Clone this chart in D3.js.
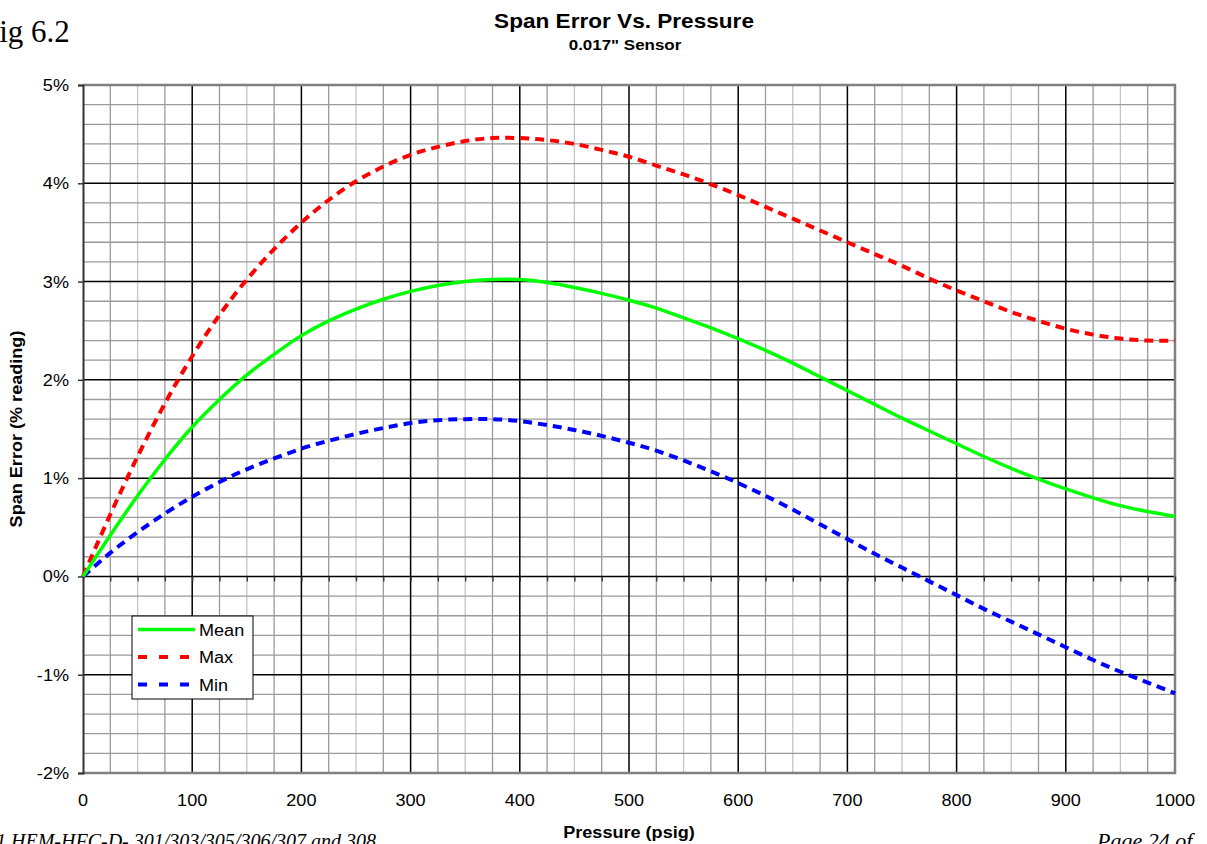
<!DOCTYPE html>
<head>
    <meta charset="utf-8">
    <script src="https://d3js.org/d3.v7.min.js"></script>
    <style>
      body { margin: 0; background: #fff; overflow: hidden; }
      text { font-family: Arial, "Liberation Sans", sans-serif; fill: #000; }
      .serif { font-family: "Times New Roman", "Liberation Serif", serif; }
    </style>
</head>
<body>
    <script>
        // pressure (psig), every 25
        var pressure = d3.range(0, 1001, 25)
        // span error (% reading)
        var meanErr = [0, 0.42, 0.82, 1.19, 1.52, 1.80, 2.05, 2.26, 2.45, 2.60, 2.72, 2.82, 2.90, 2.96, 3.00, 3.02, 3.02, 2.99, 2.94, 2.88, 2.81,
                       2.73, 2.63, 2.53, 2.42, 2.30, 2.17, 2.03, 1.89, 1.75, 1.61, 1.48, 1.35, 1.22, 1.10, 0.99, 0.89, 0.80, 0.72, 0.66, 0.61]
        var maxErr = [0, 0.63, 1.22, 1.76, 2.24, 2.66, 3.02, 3.33, 3.60, 3.83, 4.02, 4.17, 4.29, 4.37, 4.43, 4.46, 4.46, 4.44, 4.40, 4.34, 4.27,
                      4.18, 4.09, 3.99, 3.88, 3.76, 3.64, 3.52, 3.40, 3.28, 3.16, 3.03, 2.91, 2.80, 2.69, 2.60, 2.52, 2.46, 2.42, 2.40, 2.40]
        var minErr = [0, 0.24, 0.45, 0.64, 0.81, 0.96, 1.09, 1.20, 1.30, 1.38, 1.45, 1.51, 1.56, 1.59, 1.60, 1.60, 1.58, 1.54, 1.49, 1.43, 1.36,
                      1.28, 1.18, 1.07, 0.95, 0.82, 0.68, 0.53, 0.38, 0.23, 0.09, -0.05, -0.19, -0.33, -0.46, -0.59, -0.72, -0.85, -0.97, -1.08, -1.19]
        var xTicks = d3.range(0, 1001, 100)
        var yTicks = d3.range(-2, 5.01, 1)

        var series = [
          {name: "Mean", values: meanErr, color: "#00ff00", dash: null},
          {name: "Max", values: maxErr, color: "#ff0000", dash: "9,6"},
          {name: "Min", values: minErr, color: "#0000ff", dash: "9,6"}
        ]

        var svg_w = 1207, svg_h = 844
        var svg = d3.select("body").append("svg")
          .attr("width", svg_w).attr("height", svg_h)

        var x = d3.scaleLinear().domain([0, 1000]).range([83, 1175])
        var y = d3.scaleLinear().domain([-2, 5]).range([773, 85])

        // the source chart was pasted a bit wider than it was drawn, so text looks stretched
        var SX = 1.13
        function label(g, px, py, str, size, anchor, weight, rot) {
          return g.append("text")
            .attr("transform", "translate(" + px + "," + py + ")" + (rot ? " rotate(" + rot + ")" : "") + " scale(" + SX + ",1)")
            .attr("text-anchor", anchor)
            .style("font-size", size + "px")
            .style("font-weight", weight || "normal")
            .text(str)
        }

        // minor grid
        var grid = svg.append("g")
        grid.selectAll(".vminor").data(d3.range(0, 1001, 25).filter(function(d){ return d % 100 != 0 }))
          .enter().append("line")
          .attr("x1", function(d){ return x(d) }).attr("x2", function(d){ return x(d) })
          .attr("y1", y(5)).attr("y2", y(-2))
          .attr("stroke", function(d){ return d % 50 == 0 ? "#c4c4c4" : "#9a9a9a" }).attr("stroke-width", 1.3)
        grid.selectAll(".hminor").data(d3.range(-2, 5.001, 0.2).filter(function(d){ return Math.abs(d - Math.round(d)) > 0.01 }))
          .enter().append("line")
          .attr("x1", x(0)).attr("x2", x(1000))
          .attr("y1", function(d){ return y(d) }).attr("y2", function(d){ return y(d) })
          .attr("stroke", "#9a9a9a").attr("stroke-width", 1.3)
        // major grid
        grid.selectAll(".vmajor").data(xTicks.slice(1, -1))
          .enter().append("line")
          .attr("x1", function(d){ return x(d) }).attr("x2", function(d){ return x(d) })
          .attr("y1", y(5)).attr("y2", y(-2))
          .attr("stroke", "#000").attr("stroke-width", 1.5)
        grid.selectAll(".hmajor").data(yTicks.slice(1, -1))
          .enter().append("line")
          .attr("x1", x(0)).attr("x2", x(1000))
          .attr("y1", function(d){ return y(d) }).attr("y2", function(d){ return y(d) })
          .attr("stroke", "#000").attr("stroke-width", 1.5)

        // plot border
        svg.append("path")
          .attr("d", "M" + x(0) + "," + y(5) + "H" + x(1000) + "V" + y(-2) + "H" + x(0))
          .attr("fill", "none").attr("stroke", "#808080").attr("stroke-width", 2.5)

        // y axis
        var yAxis = svg.append("g").attr("transform", "translate(" + x(0) + ",0)")
          .call(d3.axisLeft(y).tickValues(yTicks).tickSize(5).tickFormat(""))
        yAxis.select(".domain").attr("stroke", "#333").attr("stroke-width", 2)
        yAxis.selectAll(".tick line").attr("stroke", "#333").attr("stroke-width", 1.5)
        var yLab = svg.append("g")
        yTicks.forEach(function(d){
          label(yLab, 69, y(d) + 6, (d < 0 ? "-" : "") + Math.abs(d) + "%", 16, "end")
        })

        // x axis crossing at 0%
        var xAxis = svg.append("g").attr("transform", "translate(0," + y(0) + ")")
          .call(d3.axisBottom(x).tickValues(d3.range(0, 1001, 25)).tickSize(5).tickFormat(""))
        xAxis.select(".domain").remove()
        xAxis.selectAll(".tick line").attr("stroke", "#333").attr("stroke-width", 1.3)

        // x tick labels at the bottom
        var xLab = svg.append("g")
        xTicks.forEach(function(d){ label(xLab, x(d), 806, String(d), 16, "middle") })

        // lines
        var line = d3.line()
          .x(function(d, i){ return x(pressure[i]) })
          .y(function(d){ return y(d) })
          .curve(d3.curveNatural)
        svg.append("g").selectAll("path").data(series.slice().reverse())
          .enter().append("path")
          .attr("d", function(d){ return line(d.values) })
          .attr("fill", "none")
          .attr("stroke", function(d){ return d.color })
          .attr("stroke-width", function(d){ return d.dash ? 4 : 3.5 })
          .attr("stroke-dasharray", function(d){ return d.dash })

        // legend
        var lg = svg.append("g").attr("transform", "translate(132,616)")
        lg.append("rect").attr("width", 121).attr("height", 83)
          .attr("fill", "#fff").attr("stroke", "#000").attr("stroke-width", 1)
        var items = lg.selectAll(".item").data(series).enter().append("g")
          .attr("transform", function(d, i){ return "translate(0," + (13.5 + i * 27.5) + ")" })
        items.append("line").attr("x1", 6).attr("x2", 63)
          .attr("stroke", function(d){ return d.color })
          .attr("stroke-width", function(d){ return d.dash ? 4 : 3.5 })
          .attr("stroke-dasharray", function(d){ return d.dash ? "9,12" : null })
        items.each(function(d){ label(d3.select(this), 67, 6, d.name, 16, "start") })

        // titles
        label(svg, 624, 28, "Span Error Vs. Pressure", 20, "middle", "bold")
        label(svg, 625, 50, "0.017\" Sensor", 15, "middle", "bold")
        label(svg, 629, 838, "Pressure (psig)", 16, "middle", "bold")
        label(svg, 22, 429, "Span Error (% reading)", 16, "middle", "bold", -90)

        // page decorations (cropped from the source document)
        svg.append("text").attr("class", "serif").attr("x", -18).attr("y", 42)
          .style("font-size", "31px").text("Fig 6.2")
        svg.append("text").attr("class", "serif").attr("x", -4).attr("y", 848)
          .style("font-size", "20px").style("font-style", "italic").text("1 HEM-HFC-D- 301/303/305/306/307 and 308")
        svg.append("text").attr("class", "serif").attr("x", 1097).attr("y", 848)
          .style("font-size", "22px").style("font-style", "italic").text("Page 24 of")
    </script>
</body>
